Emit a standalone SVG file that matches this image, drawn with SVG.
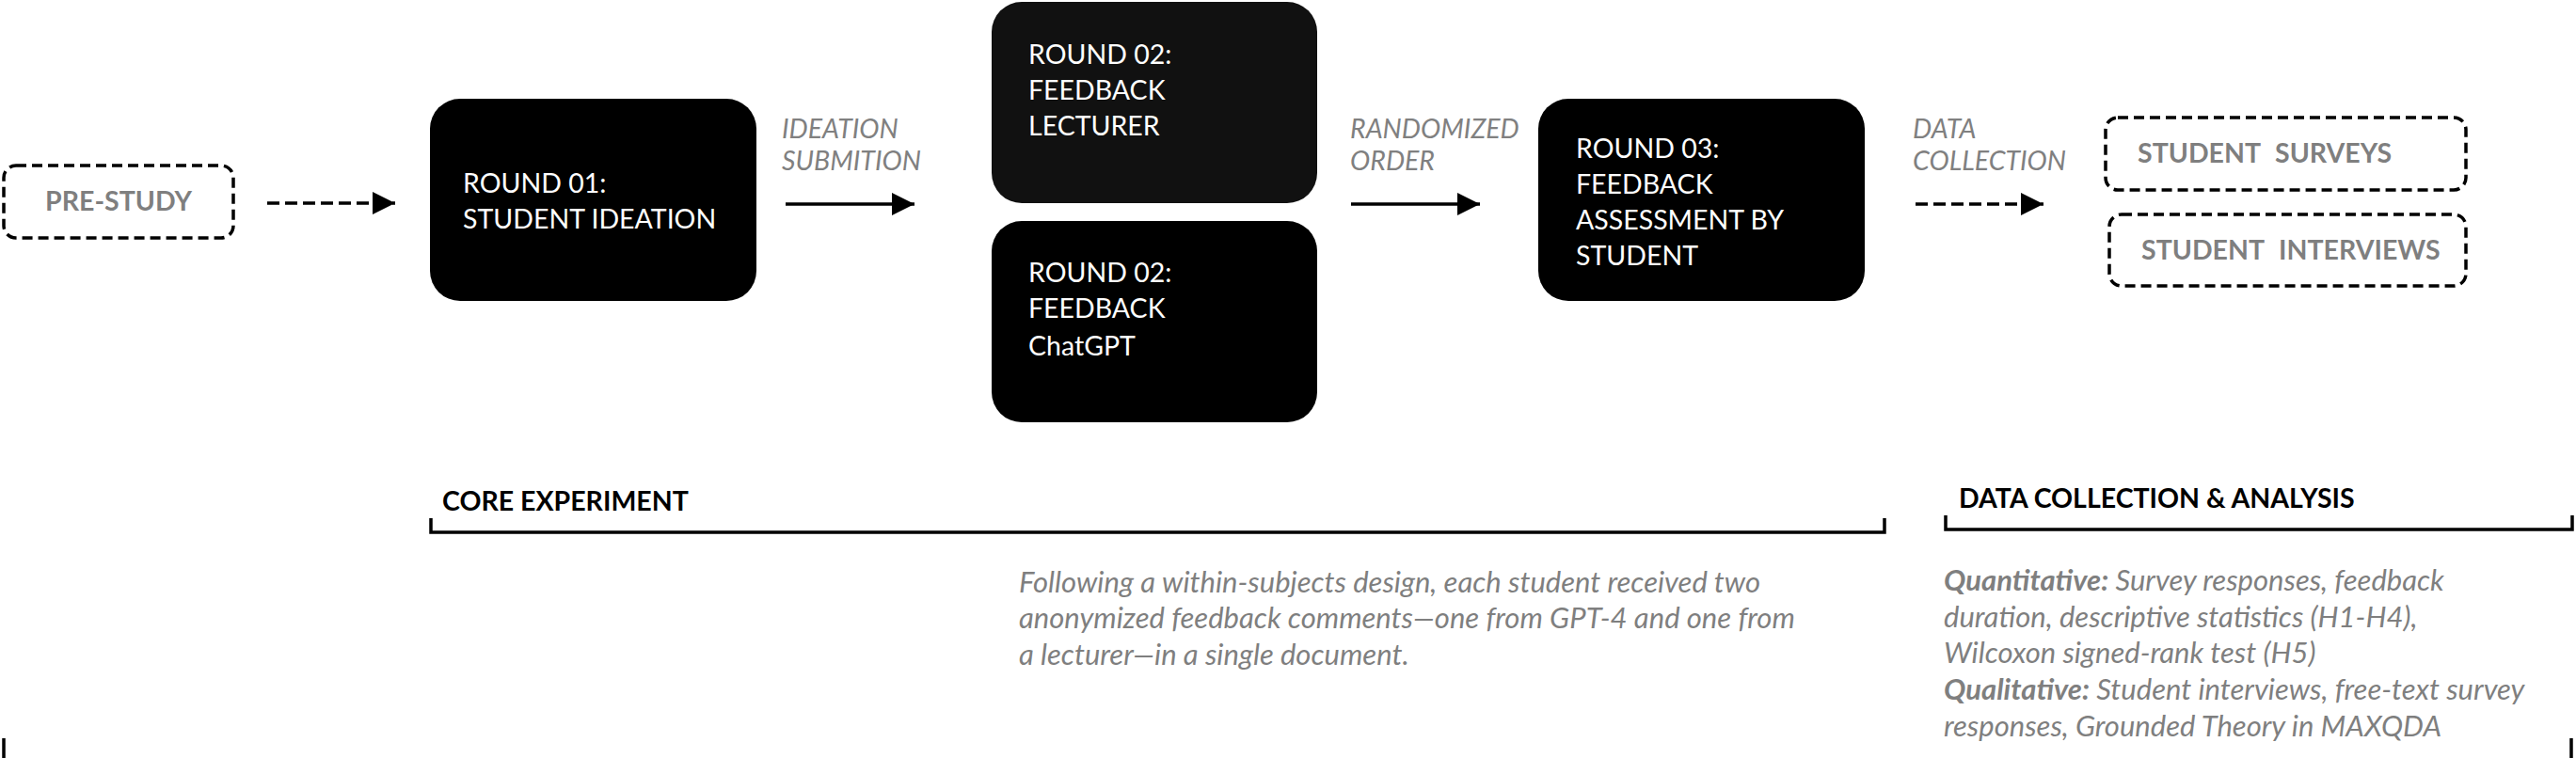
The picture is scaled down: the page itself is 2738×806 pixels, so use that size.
<svg xmlns="http://www.w3.org/2000/svg" width="2738" height="806" viewBox="0 0 2738 806">
<style>
.box{fill:#000}
.dbox{fill:none;stroke:#000;stroke-width:3.5;stroke-dasharray:11 6}
.wt{font-family:Lato,"Liberation Sans",sans-serif;font-size:28.5px;fill:#fff}
.gt{font-family:Lato,"Liberation Sans",sans-serif;font-size:28.5px;font-weight:bold;fill:#7f7f7f}
.lbl{font-family:Lato,"Liberation Sans",sans-serif;font-size:28.5px;font-style:italic;fill:#808080}
.ttl{font-family:Lato,"Liberation Sans",sans-serif;font-size:28.5px;font-weight:bold;fill:#000}
.par{font-family:Lato,"Liberation Sans",sans-serif;font-size:31px;font-style:italic;fill:#7f7f7f}
.conn{fill:none;stroke:#000;stroke-width:3.5}
.dash{stroke-dasharray:13 6}
.br{fill:none;stroke:#000;stroke-width:3.5}
</style>
<defs>
<marker id="ah" markerUnits="userSpaceOnUse" markerWidth="26" markerHeight="24" refX="24" refY="12" orient="auto">
<path d="M0,0 L24,12 L0,24 Z" fill="#000"/>
</marker>
</defs>
<rect width="2738" height="806" fill="#fff"/>

<g id="pre-study">
<rect class="dbox" x="4" y="176" width="244" height="77" rx="13"/>
<text class="gt" x="126" y="224" text-anchor="middle">PRE-STUDY</text>
</g>

<g id="round01">
<rect class="box" x="457" y="105" width="347" height="215" rx="32"/>
<text class="wt" x="492" y="205">ROUND 01:</text>
<text class="wt" x="492" y="243">STUDENT IDEATION</text>
</g>

<g id="round02-lecturer">
<rect x="1054" y="2" width="346" height="214" rx="32" fill="#111"/>
<text class="wt" x="1093" y="68">ROUND 02:</text>
<text class="wt" x="1093" y="106">FEEDBACK</text>
<text class="wt" x="1093" y="144">LECTURER</text>
</g>

<g id="round02-chatgpt">
<rect class="box" x="1054" y="235" width="346" height="214" rx="32"/>
<text class="wt" x="1093" y="300">ROUND 02:</text>
<text class="wt" x="1093" y="338">FEEDBACK</text>
<text class="wt" x="1093" y="378">ChatGPT</text>
</g>

<g id="round03">
<rect class="box" x="1635" y="105" width="347" height="215" rx="32"/>
<text class="wt" x="1675" y="168">ROUND 03:</text>
<text class="wt" x="1675" y="206">FEEDBACK</text>
<text class="wt" x="1675" y="244">ASSESSMENT BY</text>
<text class="wt" x="1675" y="282">STUDENT</text>
</g>

<g id="student-surveys">
<rect class="dbox" x="2238" y="125" width="383" height="77" rx="13"/>
<text class="gt" x="2272" y="173" word-spacing="9">STUDENT SURVEYS</text>
</g>

<g id="student-interviews">
<rect class="dbox" x="2242" y="228" width="379" height="76" rx="13"/>
<text class="gt" x="2276" y="276" word-spacing="9">STUDENT INTERVIEWS</text>
</g>

<g id="connectors">
<line class="conn dash" x1="284" y1="216" x2="420" y2="216" marker-end="url(#ah)"/>
<line class="conn" x1="835" y1="217" x2="972" y2="217" marker-end="url(#ah)"/>
<line class="conn" x1="1436" y1="217" x2="1573" y2="217" marker-end="url(#ah)"/>
<line class="conn dash" x1="2036" y1="217" x2="2172" y2="217" marker-end="url(#ah)"/>
</g>

<g id="connector-labels">
<text class="lbl" x="831" y="147">IDEATION</text>
<text class="lbl" x="831" y="181">SUBMITION</text>
<text class="lbl" x="1435" y="147">RANDOMIZED</text>
<text class="lbl" x="1435" y="181">ORDER</text>
<text class="lbl" x="2033" y="147">DATA</text>
<text class="lbl" x="2033" y="181">COLLECTION</text>
</g>

<g id="core-experiment">
<text class="ttl" x="470" y="543">CORE EXPERIMENT</text>
<path class="br" d="M458,551 V566 H2003 V551"/>
<text class="par" x="1083" y="630">Following a within-subjects design, each student received two</text>
<text class="par" x="1083" y="668">anonymized feedback comments—one from GPT-4 and one from</text>
<text class="par" x="1083" y="707">a lecturer—in a single document.</text>
</g>

<g id="data-analysis">
<text class="ttl" x="2082" y="540">DATA COLLECTION &amp; ANALYSIS</text>
<path class="br" d="M2068,548 V563 H2734 V548"/>
<text class="par" x="2066" y="628"><tspan font-weight="bold">Quantitative:</tspan> Survey responses, feedback</text>
<text class="par" x="2066" y="667">duration, descriptive statistics (H1-H4),</text>
<text class="par" x="2066" y="705">Wilcoxon signed-rank test (H5)</text>
<text class="par" x="2066" y="744"><tspan font-weight="bold">Qualitative:</tspan> Student interviews, free-text survey</text>
<text class="par" x="2066" y="783">responses, Grounded Theory in MAXQDA</text>
</g>

<g id="frame-ticks">
<line class="br" x1="4" y1="785" x2="4" y2="806"/>
<line class="br" x1="2733" y1="785" x2="2733" y2="806"/>
</g>
</svg>
